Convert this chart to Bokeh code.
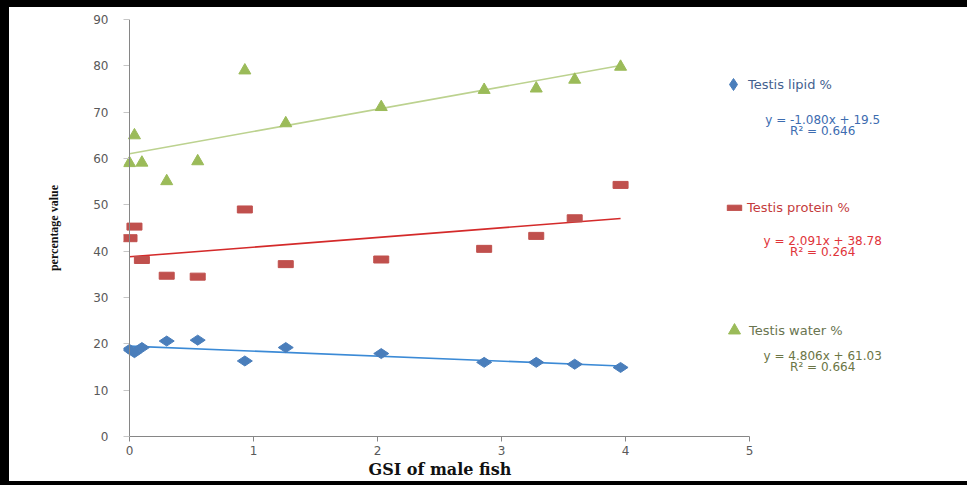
import numpy as np
from bokeh.plotting import figure
from bokeh.models import (ColumnDataSource, Range1d, FixedTicker, Legend, LegendItem,
                          Label, Span, Title)
from bokeh.embed import file_html
from bokeh.resources import INLINE

# ---- data ----
gsi = [0.0, 0.04, 0.10, 0.30, 0.55, 0.93, 1.26, 2.03, 2.86, 3.28, 3.59, 3.96]
lipid = [18.8, 18.1, 19.2, 20.6, 20.8, 16.3, 19.2, 17.9, 16.0, 16.0, 15.6, 14.9]
protein = [42.8, 45.3, 38.1, 34.7, 34.5, 49.0, 37.2, 38.2, 40.5, 43.3, 47.1, 54.3]
water = [59.0, 65.0, 59.1, 55.1, 59.4, 79.0, 67.6, 71.1, 74.8, 75.1, 77.0, 79.8]

series_names = ["Testis lipid %", "Testis protein %", "Testis water %"]
slopes = [-1.080, 2.091, 4.806]
intercepts = [19.5, 38.78, 61.03]
r_squared = [0.646, 0.264, 0.664]
x_ticks = [0, 1, 2, 3, 4, 5]
y_ticks = [0, 10, 20, 30, 40, 50, 60, 70, 80, 90]
x_title = "GSI of male fish"
y_title = "percentage value"

# ---- styling ----
marker_colors = ["#4a7ebb", "#c0504d", "#9bbb59"]
trend_colors = ["#3b8ad6", "#d42a2a", "#bcd28f"]
legend_text_colors = ["#44618f", "#c43c3c", "#6a7550"]
eq_text_colors = ["#3d6cb0", "#e0343a", "#6b7545"]

W, H = 967, 485
p = figure(width=W, height=H, output_backend="svg", toolbar_location=None,
           x_range=Range1d(-0.0484, 6.677), y_range=Range1d(0, 90),
           min_border_left=123, min_border_right=10,
           min_border_top=19, min_border_bottom=49)
p.xgrid.visible = False
p.ygrid.visible = False
p.outline_line_color = None
p.background_fill_color = "white"
p.border_fill_color = None
# dark frame of the original picture (drawn behind the transparent border area)
p.styles = {"box-shadow": "inset 9px 0 0 0 #000, inset 0 7px 0 0 #000, inset 0 -4px 0 0 #000"}

src = ColumnDataSource(dict(gsi=gsi, lipid=lipid, protein=protein, water=water))

# trend lines
x_line = [min(gsi), max(gsi)]
for i in range(3):
    y_line = [slopes[i] * xv + intercepts[i] for xv in x_line]
    p.line(x_line, y_line, line_color=trend_colors[i], line_width=1.6)

r_lip = p.scatter("gsi", "lipid", source=src, marker="diamond", size=15, angle=np.pi / 2,
                  fill_color=marker_colors[0], line_color=marker_colors[0])
r_pro = p.rect("gsi", "protein", source=src, width=15, height=7,
               width_units="screen", height_units="screen",
               fill_color=marker_colors[1], line_color=marker_colors[1])
r_wat = p.scatter("gsi", "water", source=src, marker="triangle", size=12,
                  fill_color=marker_colors[2], line_color=marker_colors[2])

# axes
ax_col = "#868686"
xa = p.xaxis[0]
xa.bounds = (x_ticks[0], x_ticks[-1])
xa.ticker = FixedTicker(ticks=x_ticks)
xa.minor_tick_line_color = None
xa.major_tick_out = 5
xa.major_tick_in = 0
xa.major_label_standoff = 4
xa.axis_line_color = ax_col
xa.major_tick_line_color = ax_col
xa.major_label_text_font = "DejaVu Sans"
xa.major_label_text_font_size = "12px"
xa.major_label_text_color = "#595959"

p.add_layout(Title(text=x_title, align="left", offset=368 - 123, standoff=0,
                   text_font="DejaVu Serif", text_font_style="bold",
                   text_font_size="16px", text_color="#111111"), "below")

ya = p.yaxis[0]
ya.ticker = FixedTicker(ticks=y_ticks)
ya.minor_tick_line_color = None
ya.major_tick_line_color = "#c6c6c6"
ya.major_tick_out = 0
ya.major_tick_in = 6
ya.axis_line_color = None
ya.major_label_standoff = 15
ya.major_label_text_font = "DejaVu Sans"
ya.major_label_text_font_size = "12px"
ya.major_label_text_color = "#595959"
ya.axis_label = y_title
ya.axis_label_text_font = "Liberation Serif"
ya.axis_label_text_font_style = "bold"
ya.axis_label_text_font_size = "12px"
ya.axis_label_text_color = "#111111"
ya.axis_label_standoff = 29

# vertical axis line at x = 0
p.add_layout(Span(location=x_ticks[0], dimension="height", line_color=ax_col, line_width=1))

# legends (one per series, stacked on the right)
renderers = [r_lip, r_pro, r_wat]
leg_locs = [(595, 337), (602, 221), (596, 91)]
glyph_sizes = [(30, 30), (18, 7), (30, 30)]
standoffs = [-1, 4, -1]
for i in range(3):
    lg = Legend(items=[LegendItem(label=series_names[i], renderers=[renderers[i]])],
                location=leg_locs[i], padding=0, margin=0, spacing=0,
                glyph_width=glyph_sizes[i][0], glyph_height=glyph_sizes[i][1],
                label_standoff=standoffs[i],
                background_fill_alpha=0, border_line_color=None,
                label_text_font="DejaVu Sans", label_text_font_size="13px",
                label_text_color=legend_text_colors[i])
    p.add_layout(lg)

# trendline equations
eq_x = 5.59
eq_y = [(68.4, 66.0), (42.3, 39.8), (17.3, 14.9)]
for i in range(3):
    eq = f"y = {slopes[i]:.3f}x + {intercepts[i]}"
    r2t = f"R\u00b2 = {r_squared[i]:.3f}"
    for txt, yy in zip([eq, r2t], eq_y[i]):
        p.add_layout(Label(x=eq_x, y=yy, text=txt, text_align="center",
                           text_baseline="middle", text_font="DejaVu Sans",
                           text_font_size="12px", text_color=eq_text_colors[i]))

open("out.html", "w").write(file_html(p, INLINE))
